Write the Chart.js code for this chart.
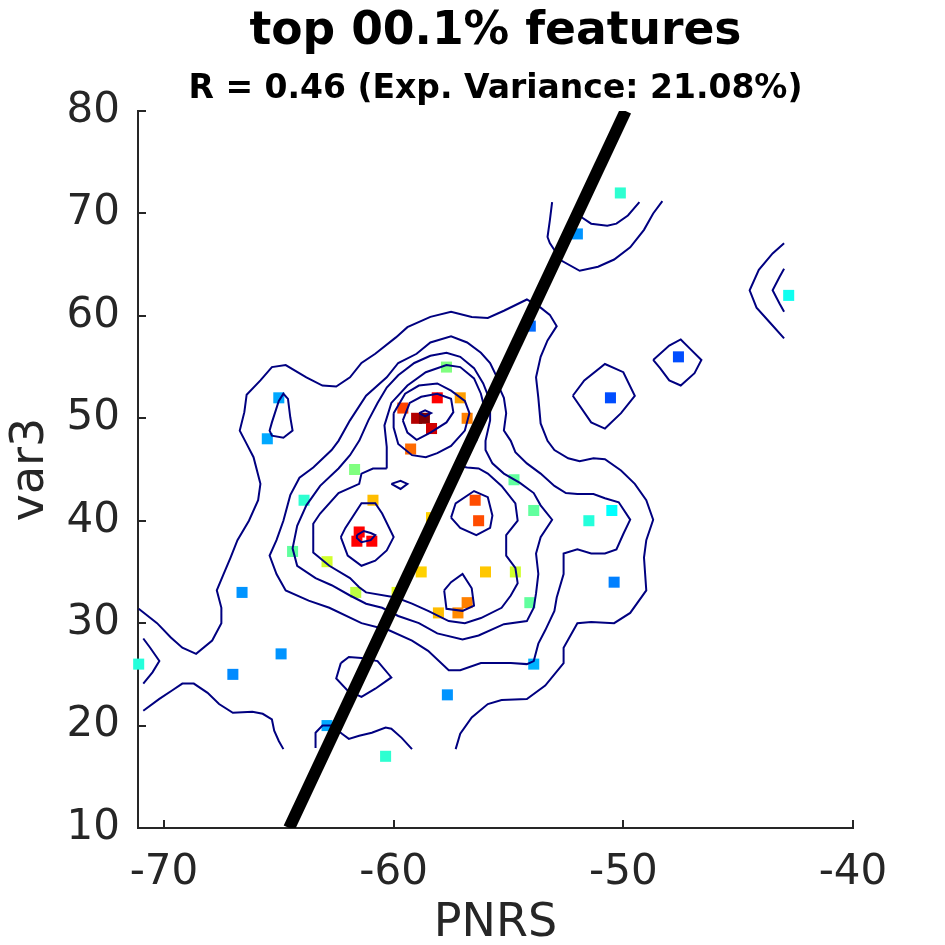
<!DOCTYPE html>
<html><head><meta charset="utf-8">
<script src="https://cdn.jsdelivr.net/npm/chart.js@4.4.1/dist/chart.umd.min.js"></script>
<style>html,body{margin:0;padding:0;background:#fff;}#wrap{width:945px;height:945px;}</style>
</head><body><div id="wrap"><canvas id="c" width="945" height="945"></canvas></div>
<script>
// ---- data ----
const pnrs = [-71.1,-67.0,-66.6,-64.9,-65.0,-65.5,-63.9,-64.4,-62.9,-61.7,-61.65,-60.9,-61.5,-61.6,-60.95,-62.9,-60.35,-59.6,-59.26,-59.0,-58.66,-58.35,-58.1,-57.7,-57.1,-56.8,-56.45,-56.3,-58.8,-58.05,-57.2,-56.8,-56.0,-57.66,-54.7,-54.76,-53.9,-54.07,-53.9,-54.05,-52.0,-50.13,-51.5,-50.5,-50.56,-50.4,-47.6,-42.8,-58.35,-59.85];
const var3 = [26,25,33,27,52,48,42,37,36,45,33,42,38.9,38,38,20,17,51,47,50,50,49,52,55,52,50,42,40,35,31,31,32,35,23,35,44,41,32,26,59,68,72,40,41,52,34,56,62,40.3,33];
const density = [0.41,0.26,0.27,0.27,0.29,0.29,0.42,0.47,0.58,0.5,0.56,0.69,0.875,0.875,0.875,0.29,0.42,0.81,0.77,0.95,1.0,0.92,0.875,0.5,0.72,0.75,0.80,0.80,0.67,0.69,0.74,0.75,0.68,0.27,0.58,0.47,0.47,0.47,0.30,0.23,0.27,0.42,0.41,0.375,0.20,0.25,0.20,0.39,0.67,0.6];
const regX = [-64.55, -49.9];
const regY = [10, 80];
const xTicks = [-70, -60, -50, -40];
const yTicks = [10, 20, 30, 40, 50, 60, 70, 80];

// density contour lines [pnrs, var3]
const contourOuter = [[-71.1,31.4],[-70.3,30.0],[-69.7,28.6],[-69.2,27.6],[-68.6,27.0],[-67.9,28.3],[-67.5,30.0],[-67.5,31.5],[-67.7,33.2],[-67.4,34.8],[-67.1,36.4],[-66.8,38.1],[-66.3,40.0],[-65.9,42.0],[-65.8,43.6],[-66.1,46.2],[-66.4,47.5],[-66.7,48.8],[-66.5,50.6],[-66.4,52.3],[-65.8,53.7],[-65.3,55.0],[-64.7,55.2],[-63.8,54.0],[-63.1,53.2],[-62.5,53.1],[-61.9,54.0],[-61.4,55.4],[-60.8,56.3],[-59.9,57.9],[-59.4,58.9],[-58.4,59.9],[-57.5,60.4],[-56.6,59.9],[-55.9,59.8],[-55.2,60.5],[-54.2,61.6],[-53.6,60.8],[-53.2,60.1],[-52.9,59.0],[-53.3,57.6],[-53.6,56.0],[-53.8,54.0],[-53.7,52.0],[-53.6,49.5],[-53.3,47.8],[-53.0,46.9],[-52.4,46.1],[-51.9,45.8],[-51.3,46.1],[-50.8,46.0],[-50.1,44.9],[-49.5,43.6],[-49.0,42.0],[-48.7,40.1],[-49.0,38.1],[-49.1,36.4],[-49.0,33.2],[-49.7,31.0],[-50.4,30.0],[-51.4,30.1],[-52.0,30.0],[-52.6,27.6],[-52.6,26.1],[-53.4,23.9],[-54.2,22.6],[-55.3,22.5],[-55.9,22.1],[-56.6,20.8],[-57.1,19.2],[-57.3,17.7]];
const contourLeftEdge = [[-70.9,28.5],[-70.6,27.6],[-70.2,26.3],[-70.5,25.2],[-70.9,24.1]];
const contourBottomLeft = [[-70.9,21.45],[-70.2,22.6],[-69.6,23.5],[-69.2,24.1],[-68.7,24.1],[-68.1,23.2],[-67.6,22.1],[-67.0,21.25],[-66.15,21.35],[-65.7,21.15],[-65.3,20.6],[-65.2,19.5],[-65.0,18.5],[-64.8,17.7]];
const contourBottomMid = [[-63.4,17.8],[-63.4,19.3],[-63.1,20.0],[-62.7,20.0],[-62.25,19.2],[-61.95,18.7],[-61.5,19.0],[-60.95,19.3],[-60.35,19.8],[-60.1,19.7],[-59.65,18.8],[-59.2,17.7]];
const contourLowLoop = [[-62.3,26.1],[-61.95,26.7],[-61.4,26.6],[-60.7,26.3],[-60.1,24.7],[-60.8,23.6],[-61.4,22.8],[-62.0,23.4],[-62.5,24.6],[-62.3,26.1]];
const contourLevel2 = [[-61.9,49.8],[-62.4,47.8],[-62.7,46.9],[-63.5,45.2],[-64.1,44.2],[-64.5,42.5],[-64.8,40.0],[-65.1,38.1],[-65.4,36.6],[-65.1,34.8],[-64.7,33.2],[-63.7,32.2],[-62.8,31.5],[-61.4,30.0],[-60.2,29.3],[-59.2,28.3],[-58.5,27.3],[-57.6,25.4],[-57.1,25.4],[-56.2,26.1],[-54.9,26.1],[-54.2,26.0],[-53.9,26.3],[-53.7,28.0],[-53.4,29.3],[-53.0,31.2],[-52.9,32.5],[-52.6,34.8],[-52.6,36.8],[-52.0,37.2],[-51.4,36.8],[-50.8,36.8],[-50.3,37.2],[-50.0,38.7],[-49.7,40.1],[-50.2,41.8],[-50.8,42.2],[-51.3,42.6],[-52.0,42.6],[-52.5,42.7],[-53.0,43.4],[-53.6,44.6],[-54.2,45.6],[-54.7,46.7],[-54.9,47.8],[-55.2,48.8],[-55.1,50.5],[-55.2,52.0],[-55.4,53.0],[-55.5,54.0],[-55.8,55.4],[-56.2,56.4],[-56.8,57.4],[-57.5,58.0],[-58.4,57.4],[-59.0,56.3],[-59.8,55.4],[-60.3,54.0],[-61.2,52.2],[-61.9,49.8]];
const contourLevel3 = [[-61.5,47.8],[-61.9,46.4],[-62.4,45.1],[-63.2,43.4],[-63.8,41.5],[-64.2,39.5],[-64.4,37.3],[-64.2,35.6],[-63.4,34.4],[-62.7,33.7],[-61.9,32.7],[-61.2,31.9],[-60.5,31.5],[-59.8,30.7],[-58.9,30.0],[-58.1,29.0],[-57.0,28.4],[-56.3,28.8],[-55.2,29.9],[-54.2,30.2],[-53.9,31.5],[-53.8,32.9],[-53.7,34.8],[-53.8,36.8],[-53.6,38.4],[-53.1,40.1],[-53.6,41.5],[-53.9,42.7],[-54.5,43.7],[-55.2,44.6],[-55.7,45.6],[-56.0,46.9],[-56.0,47.8],[-55.8,49.8],[-55.8,51.7],[-56.1,53.4],[-56.5,54.9],[-57.1,56.0],[-57.7,56.4],[-58.4,56.1],[-59.1,55.4],[-59.8,54.2],[-60.3,53.0],[-60.7,51.5],[-61.1,49.8],[-61.5,47.8]];
const contourLevel4 = [[-60.3,45.1],[-60.3,47.2],[-60.4,49.3],[-60.1,51.5],[-59.4,53.2],[-58.6,54.5],[-57.7,55.2],[-57.1,55.0],[-56.5,53.9],[-56.2,52.4],[-56.0,50.6],[-56.4,47.8],[-57.3,45.4],[-56.8,45.2],[-56.3,45.1],[-55.9,44.6],[-55.3,43.4],[-54.7,41.7],[-54.6,40.0],[-55.1,38.6],[-55.1,36.6],[-54.7,35.4],[-54.6,33.9],[-54.9,32.7],[-55.3,31.5],[-56.2,30.5],[-56.9,30.0],[-57.6,30.2],[-58.5,31.2],[-59.2,31.9],[-59.9,32.5],[-61.2,33.0],[-61.5,33.5],[-61.9,34.4],[-62.8,35.6],[-63.5,36.9],[-63.5,39.7],[-63.2,40.7],[-62.4,42.7],[-61.5,43.6],[-61.4,44.6],[-60.9,45.1],[-60.3,45.1]];
const contourTopRing5 = [[-60.0,50.5],[-59.5,52.4],[-58.9,53.2],[-58.1,53.4],[-57.5,52.7],[-56.9,51.7],[-56.7,50.5],[-56.9,48.8],[-57.5,47.3],[-58.1,46.6],[-58.6,46.2],[-59.2,46.4],[-59.8,47.5],[-60.0,49.1],[-60.0,50.5]];
const contourTopRing6 = [[-59.6,49.8],[-59.3,51.5],[-58.8,52.1],[-58.1,52.4],[-57.5,51.9],[-57.4,50.6],[-57.7,49.6],[-58.4,48.6],[-59.0,47.9],[-59.4,48.6],[-59.6,49.8]];
const contourTopPeak = [[-58.89,50.51],[-58.63,50.77],[-58.37,50.5],[-58.63,50.19],[-58.89,50.51]];
const contourLeftRing5 = [[-62.3,38.4],[-62.1,39.3],[-61.4,41.7],[-60.8,41.7],[-60.5,40.7],[-60.0,38.4],[-60.3,37.1],[-60.8,36.1],[-61.4,35.6],[-62.0,36.6],[-62.3,38.4]];
const contourLeftPeak = [[-61.6,38.6],[-61.3,39.0],[-61.0,38.8],[-60.8,38.6],[-61.0,38.1],[-61.4,37.9],[-61.6,38.3],[-61.6,38.6]];
const contourRightRing5 = [[-57.5,40.3],[-57.3,41.7],[-56.5,42.9],[-55.9,42.3],[-55.7,40.5],[-55.8,39.3],[-56.4,38.6],[-57.1,39.3],[-57.5,40.3]];
const contourLowRing5 = [[-57.8,33.2],[-57.5,34.0],[-57.0,34.8],[-56.6,33.4],[-56.5,31.7],[-57.0,31.2],[-57.7,31.4],[-57.8,33.2]];
const contourSaddle = [[-60.1,43.6],[-59.7,43.9],[-59.4,43.6],[-59.7,43.1],[-60.1,43.6]];
const contourLeftLoop = [[-65.3,49.6],[-65.0,51.7],[-64.8,52.4],[-64.6,51.9],[-64.5,50.1],[-64.4,48.8],[-64.8,48.1],[-65.3,48.3],[-65.4,48.8],[-65.3,49.6]];
const contourTopRightA = [[-53.1,71.1],[-53.2,69.3],[-53.3,67.7],[-53.2,67.1],[-52.7,65.4],[-51.9,64.4],[-51.1,64.8],[-50.4,65.5],[-49.7,66.7],[-49.1,68.4],[-48.7,70.0],[-48.3,71.2]];
const contourTopRightB = [[-52.1,70.2],[-51.8,69.6],[-51.4,69.0],[-50.7,68.8],[-50.3,69.0],[-49.8,69.8],[-49.3,71.1]];
const contourRightLoopA = [[-48.7,55.7],[-48.0,57.1],[-47.5,57.7],[-47.1,56.8],[-46.6,55.7],[-46.9,54.4],[-47.5,53.2],[-48.0,53.7],[-48.4,54.9],[-48.7,55.7]];
const contourRightLoopB = [[-52.2,52.2],[-51.7,53.7],[-50.8,55.3],[-50.0,54.5],[-49.5,52.2],[-50.1,50.5],[-50.8,49.0],[-51.4,49.6],[-52.2,52.2]];
const contourEdgeOuter = [[-43.0,67.1],[-43.5,66.1],[-44.1,64.5],[-44.5,62.5],[-44.2,60.8],[-43.6,59.3],[-43.0,57.8]];
const contourEdgeInner = [[-43.0,64.6],[-43.2,63.8],[-43.5,62.5],[-43.2,61.2],[-43.0,60.4]];

const contourLines = [contourOuter, contourLeftEdge, contourBottomLeft, contourBottomMid, contourLowLoop,
  contourLevel2, contourLevel3, contourLevel4, contourTopRing5, contourTopRing6, contourTopPeak,
  contourLeftRing5, contourLeftPeak, contourRightRing5, contourLowRing5, contourSaddle, contourLeftLoop,
  contourTopRightA, contourTopRightB, contourRightLoopA, contourRightLoopB, contourEdgeOuter, contourEdgeInner];

// ---- rendering ----
function jet(v) {
  const c = t => Math.max(0, Math.min(1, t));
  const r = c(1.5 - Math.abs(4 * v - 3)), g = c(1.5 - Math.abs(4 * v - 2)), b = c(1.5 - Math.abs(4 * v - 1));
  return `rgb(${Math.round(r * 255)},${Math.round(g * 255)},${Math.round(b * 255)})`;
}

Chart.defaults.font.family = "'DejaVu Sans', sans-serif";

const inwardTicks = {
  id: 'inwardTicks',
  beforeDatasetsDraw(chart) {
    const {ctx, chartArea: a, scales: {x, y}} = chart;
    ctx.save();
    ctx.strokeStyle = '#262626';
    ctx.lineWidth = 2;
    ctx.beginPath();
    x.ticks.forEach(t => { const p = Math.round(x.getPixelForValue(t.value)); ctx.moveTo(p, a.bottom); ctx.lineTo(p, a.bottom - 8); });
    y.ticks.forEach(t => { const p = Math.round(y.getPixelForValue(t.value)); ctx.moveTo(a.left, p); ctx.lineTo(a.left + 8, p); });
    ctx.stroke();
    ctx.restore();
  }
};

const datasets = [];
datasets.push({
  label: 'fit', data: regX.map((v, i) => ({x: v, y: regY[i]})),
  showLine: true, borderColor: '#000', borderWidth: 12, pointRadius: 0, fill: false, order: 0
});
contourLines.forEach((line, k) => datasets.push({
  label: 'contour' + k, data: line.map(p => ({x: p[0], y: p[1]})),
  showLine: true, borderColor: '#000080', borderWidth: 2, pointRadius: 0, fill: false, tension: 0, order: 1
}));
datasets.push({
  label: 'features', data: pnrs.map((v, i) => ({x: v, y: var3[i]})),
  pointStyle: 'rect', pointRadius: 7.8, pointBorderWidth: 0,
  pointBackgroundColor: density.map(jet), pointBorderColor: density.map(jet),
  showLine: false, clip: false, order: 2
});

new Chart(document.getElementById('c'), {
  type: 'scatter',
  data: {datasets},
  options: {
    responsive: false, animation: false, events: [],
    layout: {padding: {left: 0, right: 92, top: 0, bottom: 0}},
    plugins: {
      legend: {display: false}, tooltip: {enabled: false},
      title: {display: true, fullSize: false, text: 'top 00.1% features', color: '#000',
        font: {size: 45.6, weight: 'bold', lineHeight: 1.2}, padding: {top: 4.5, bottom: 0}},
      subtitle: {display: true, fullSize: false, text: 'R = 0.46 (Exp. Variance: 21.08%)', color: '#000',
        font: {size: 33, weight: 'bold', lineHeight: 1.2}, padding: {top: 10.5, bottom: 1.7}}
    },
    scales: {
      x: {
        type: 'linear', min: -71.13, max: -40,
        afterBuildTicks: s => { s.ticks = xTicks.map(v => ({value: v})); },
        afterFit: s => { s.height = 117; },
        grid: {display: false, drawTicks: false},
        border: {display: true, color: '#262626', width: 2},
        ticks: {color: '#262626', font: {size: 42}, padding: 20, maxRotation: 0, autoSkip: false},
        title: {display: true, text: 'PNRS', color: '#262626', font: {size: 46, lineHeight: 0.9}, padding: {top: 0, bottom: 0}}
      },
      y: {
        type: 'linear', min: 10, max: 80,
        afterBuildTicks: s => { s.ticks = yTicks.map(v => ({value: v})); },
        afterFit: s => { s.width = 138; },
        grid: {display: false, drawTicks: false},
        border: {display: true, color: '#262626', width: 2},
        ticks: {color: '#262626', font: {size: 42}, padding: 18, autoSkip: false},
        title: {display: true, text: 'var3', color: '#262626', font: {size: 46, lineHeight: 1}, padding: {top: 8.5, bottom: 0}}
      }
    }
  },
  plugins: [inwardTicks]
});
</script>
</body></html>
